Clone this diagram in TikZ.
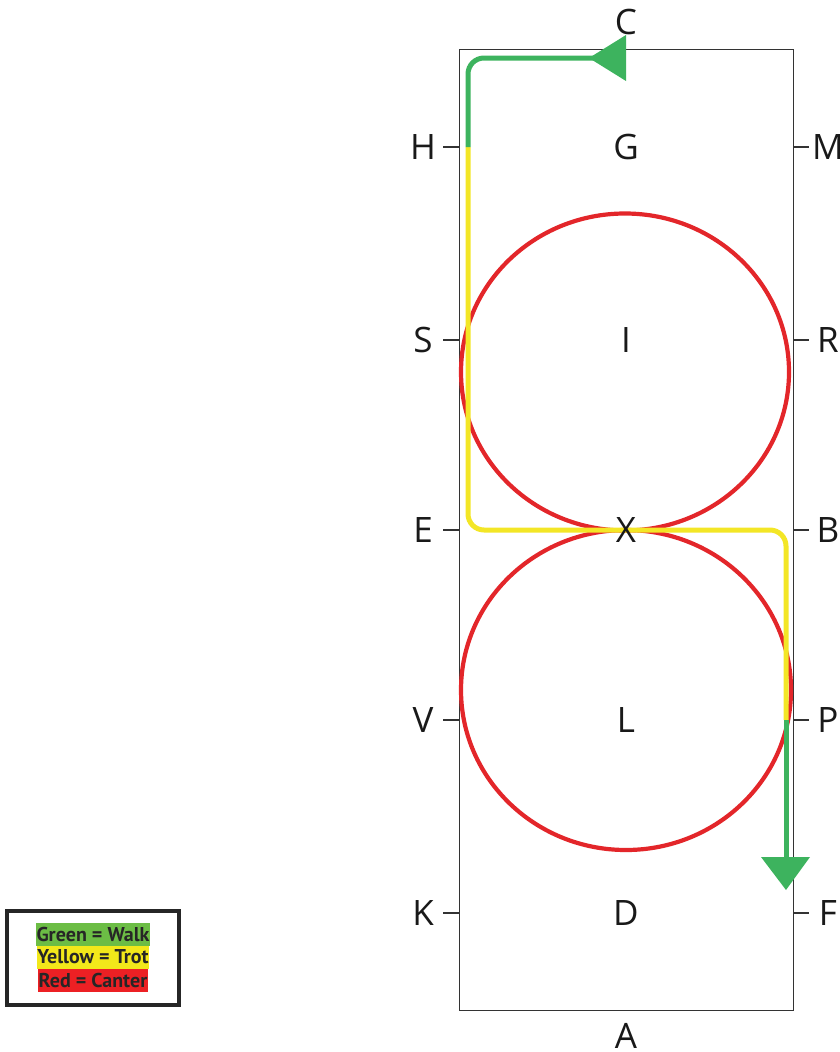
\documentclass[tikz,border=0pt]{standalone}
\usepackage{fontspec}
\usetikzlibrary{shapes.geometric}
\setmainfont{Open Sans}
\newfontfamily\legendfont{PT Sans}
\begin{document}
\begin{tikzpicture}[x=1pt,y=-1pt]
\definecolor{arenared}{HTML}{E3262A}
\definecolor{arenayellow}{HTML}{F3E626}
\definecolor{arenagreen}{HTML}{3DB35E}
\definecolor{legendgreen}{HTML}{6CBD45}
\definecolor{legendyellow}{HTML}{F2E81A}
\definecolor{legendred}{HTML}{EC2024}
\definecolor{frame}{HTML}{333333}
\tikzset{
  letter/.style={font=\fontsize{35}{35}\selectfont, text=black!90, inner sep=0pt},
  tick/.style={draw=frame, line width=1.2pt},
  border/.style={draw=frame, line width=1.4pt},
  canter/.style={draw=arenared, line width=4.2pt},
  trot/.style={draw=arenayellow, line width=5pt, rounded corners=16pt},
  walk/.style={draw=arenagreen, line width=5pt, rounded corners=16pt},
  walktip/.style={fill=arenagreen, draw=none},
  legendbox/.style={draw=black!85, line width=3.5pt},
  legendtext/.style={font=\legendfont\bfseries\fontsize{20}{20}\selectfont, text=black!85, inner xsep=0.5pt, inner ysep=1pt, minimum height=23pt}
}
\useasboundingbox (0,0) rectangle (840,1052);
% arena
\node[border, minimum width=334pt, minimum height=961pt, inner sep=0pt, anchor=north west] (arena) at (459,49) {};
% ticks and side letters
\foreach \nm/\y in {H/147, S/340, E/530, V/720, K/913}{
  \coordinate (t\nm) at (443,\y);
  \draw[tick] (t\nm) -- (459,\y);
  \node[letter] (\nm) at (423,\y) {\nm};
}
\foreach \nm/\y in {M/147, R/340, B/530, P/720, F/913}{
  \coordinate (t\nm) at (809,\y);
  \draw[tick] (793,\y) -- (t\nm);
  \node[letter] (\nm) at (828,\y) {\nm};
}
% circles
\node[canter, ellipse, minimum width=328pt, minimum height=317pt, inner sep=0pt] (circI) at (625,372) {};
\node[canter, ellipse, minimum width=330pt, minimum height=320pt, inner sep=0pt] (circL) at (626,690) {};
% path
\coordinate (p0) at (468,147);
\coordinate (p1) at (468,530);
\coordinate (p2) at (786,530);
\coordinate (p3) at (786,720);
\coordinate (p4) at (786,862);
\coordinate (q1) at (468,58);
\coordinate (q2) at (600,58);
\draw[trot] (p0) -- (p1) -- (p2) -- (p3);
\draw[walk] (p0) -- (q1) -- (q2);
\draw[walk] (p3) -- (p4);
\fill[walktip] (589,58) -- (626,35) -- (626,81) -- cycle;
\fill[walktip] (786,890) -- (761,857) -- (810,857) -- cycle;
% centre letters
\node[letter] (C) at (626,22) {C};
\node[letter] (G) at (626,147) {G};
\node[letter] (I) at (626,340) {I};
\node[letter] (X) at (626,530) {X};
\node[letter] (L) at (626,720) {L};
\node[letter] (D) at (626,913) {D};
\node[letter] (A) at (626,1036) {A};
% legend
\draw[legendbox] (7,911) rectangle (179,1005);
\node[legendtext, fill=legendgreen] (lw) at (93,934.5) {Green = Walk};
\node[legendtext, fill=legendyellow] (lt) at (93,957) {Yellow = Trot};
\node[legendtext, fill=legendred] (lc) at (93,980.5) {Red = Canter};
\end{tikzpicture}
\end{document}
